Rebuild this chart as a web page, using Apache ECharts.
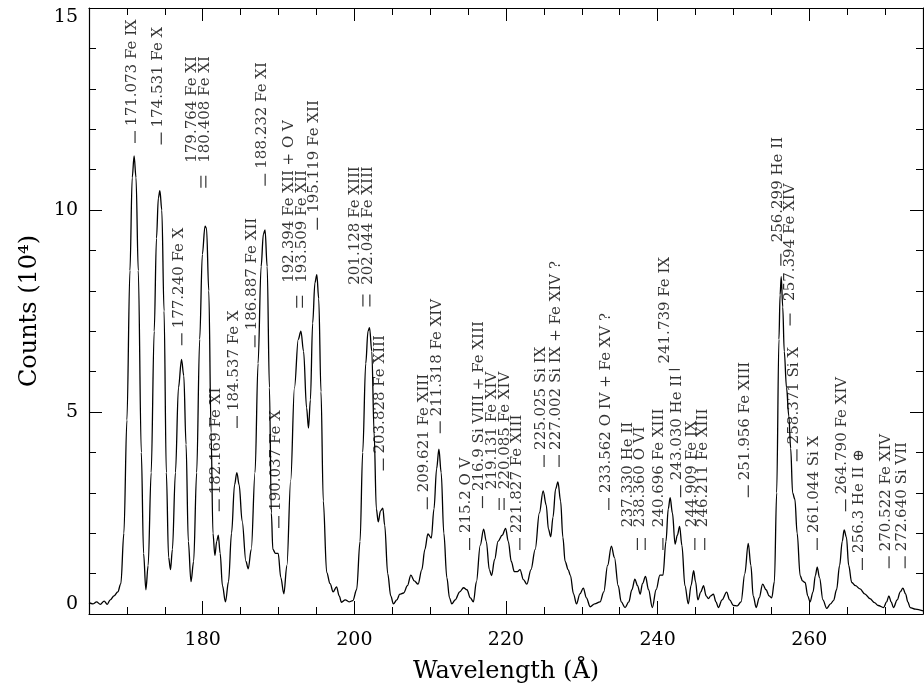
<!DOCTYPE html>
<html>
<head>
<meta charset="utf-8">
<script src="https://cdn.jsdelivr.net/npm/echarts@6/dist/echarts.min.js"></script>
<style>
  html, body { margin: 0; padding: 0; background: #fff; }
  #chart { width: 924px; height: 689px; }
</style>
</head>
<body>
<div id="chart"></div>
<script>
// spectrum (wavelength in Å, counts in 10^4)
const wl = [
  165.0,165.5,166.0,166.5,167.0,167.4,167.8,168.3,168.8,169.2,169.6,170.0,170.4,170.7,170.95,171.2,171.5,171.9,172.2,172.5,
  172.8,173.2,173.6,173.9,174.15,174.35,174.6,174.9,175.2,175.5,175.75,176.0,176.4,176.8,177.2,177.5,177.8,178.1,178.45,178.8,
  179.2,179.6,179.95,180.3,180.5,180.8,181.1,181.35,181.6,181.85,182.05,182.3,182.6,183.0,183.4,183.8,184.2,184.5,184.8,185.2,
  185.7,186.0,186.4,186.9,187.3,187.7,188.0,188.22,188.5,188.8,189.05,189.25,189.6,189.95,190.3,190.7,191.1,191.6,192.1,192.6,
  192.95,193.3,193.7,193.95,194.2,194.5,194.8,195.05,195.3,195.6,195.9,196.35,196.8,197.2,197.65,198.0,198.3,198.8,199.3,199.8,
  200.3,200.75,201.1,201.5,201.8,202.0,202.3,202.6,202.9,203.15,203.45,203.75,204.0,204.4,204.8,205.15,205.6,206.0,206.5,207.0,
  207.45,207.9,208.4,208.9,209.3,209.7,210.15,210.5,210.85,211.15,211.45,211.8,212.2,212.55,212.85,213.3,213.9,214.4,214.85,215.3,
  215.7,216.1,216.6,217.05,217.4,217.8,218.1,218.5,218.95,219.5,219.95,220.3,220.7,221.1,221.5,221.85,222.3,222.75,223.3,223.85,
  224.4,224.9,225.3,225.6,225.9,226.2,226.55,226.85,227.2,227.5,227.8,228.2,228.5,228.9,229.3,229.75,230.2,230.6,231.1,231.7,
  232.4,232.9,233.4,233.9,234.3,234.8,235.2,235.7,236.2,236.6,237.0,237.35,237.7,238.0,238.4,238.8,239.3,239.8,240.3,240.7,
  241.1,241.4,241.65,241.95,242.3,242.6,242.9,243.2,243.6,244.05,244.4,244.75,245.0,245.3,245.7,246.05,246.4,246.7,247.0,247.35,
  247.7,248.0,248.5,249.1,249.5,250.0,250.5,251.0,251.5,251.95,252.3,252.6,253.0,253.4,253.85,254.3,254.7,255.05,255.4,255.7,
  256.0,256.15,256.3,256.5,256.7,257.0,257.3,257.55,257.8,258.1,258.4,258.8,259.1,259.45,259.8,260.1,260.5,260.8,261.05,261.35,
  261.8,262.3,262.8,263.2,263.6,264.0,264.35,264.6,264.9,265.2,265.6,266.1,266.7,267.3,268.0,268.6,269.1,269.8,270.2,270.5,
  270.8,271.1,271.6,272.0,272.35,272.7,273.0,273.3,274.0,275.0
];
const counts = [
  0.28,0.25,0.30,0.24,0.32,0.24,0.35,0.45,0.55,0.75,2.0,4.8,8.5,10.8,11.34,10.8,8.5,4.0,1.5,0.6,
  1.2,3.5,7.0,9.3,10.3,10.48,10.0,7.5,3.5,1.4,1.1,1.6,3.5,5.6,6.3,5.9,4.2,1.8,0.8,1.3,
  3.5,6.8,8.9,9.6,9.55,8.0,4.5,2.0,1.45,1.8,1.95,1.5,0.7,0.3,0.8,2.0,3.2,3.5,3.2,2.3,
  1.3,1.12,1.6,3.5,6.2,8.6,9.4,9.51,8.6,5.6,2.5,1.6,1.5,1.5,0.9,0.5,1.2,3.3,5.6,6.8,
  7.0,6.5,5.1,4.6,5.3,7.2,8.2,8.4,7.8,5.5,2.8,1.03,0.75,0.55,0.67,0.45,0.29,0.35,0.30,0.33,
  0.6,1.8,4.0,6.2,7.0,7.09,6.5,4.5,2.6,2.28,2.55,2.62,2.2,1.0,0.45,0.25,0.35,0.49,0.52,0.7,
  0.96,0.82,0.74,1.1,1.6,1.98,1.88,2.6,3.6,4.08,3.5,2.0,0.9,0.4,0.25,0.35,0.55,0.65,0.6,0.4,
  0.3,0.8,1.7,2.1,1.8,1.1,0.95,1.35,1.8,1.95,2.12,1.8,1.3,1.05,1.05,1.1,0.85,0.74,1.1,1.6,
  2.5,3.05,2.7,2.1,1.91,2.4,3.1,3.27,2.8,1.9,1.3,1.1,0.95,0.5,0.25,0.5,0.64,0.4,0.18,0.25,
  0.3,0.55,1.2,1.68,1.4,0.7,0.3,0.16,0.3,0.6,0.86,0.7,0.49,0.75,0.93,0.6,0.16,0.6,0.96,0.96,
  1.8,2.6,2.88,2.5,1.73,1.95,2.17,1.7,0.7,0.25,0.7,1.07,0.8,0.35,0.55,0.7,0.45,0.38,0.45,0.49,
  0.3,0.16,0.35,0.54,0.35,0.21,0.2,0.3,1.0,1.75,1.2,0.45,0.16,0.4,0.74,0.6,0.45,0.4,0.8,3.0,
  6.8,7.9,8.35,7.6,6.5,5.6,4.9,4.1,3.0,2.84,2.0,0.95,0.82,0.78,0.45,0.3,0.55,0.95,1.16,0.9,
  0.35,0.14,0.25,0.33,0.6,1.2,1.8,2.08,1.9,1.2,0.78,0.7,0.62,0.5,0.38,0.28,0.21,0.16,0.3,0.45,
  0.3,0.16,0.35,0.55,0.64,0.5,0.3,0.16,0.12,0.08
];

// line markers: position (Å), height of the tick centre (10^4 counts), text drawn above it
const markWl = [171.073,174.531,177.240,179.764,180.408,182.169,184.537,186.887,188.232,190.037,
  192.394,193.15,195.119,201.128,202.044,203.828,209.621,211.318,215.2,216.9,219.1,219.75,221.827,
  225.025,227.002,233.562,237.330,238.360,240.696,242.2,243.030,244.909,246.211,251.956,256.25,
  257.47,258.371,261.044,264.790,267.0,270.522,272.640];
const markY = [11.81,11.77,6.80,10.70,10.70,2.69,4.75,6.75,10.75,2.28,
  7.73,7.73,9.66,7.76,7.76,3.70,2.74,4.62,1.73,2.77,2.72,2.72,1.73,
  3.79,3.79,2.72,1.73,1.73,1.73,6.05,3.04,1.73,1.73,3.04,8.77,
  7.29,3.93,1.73,2.69,1.24,1.28,1.28];
const markFlat = [242.2];   // drawn as a flat bar
const markText = ['171.073 Fe IX','174.531 Fe X','177.240 Fe X','','','182.169 Fe XI','184.537 Fe X','186.887 Fe XII','188.232 Fe XI','190.037 Fe X',
  '','','195.119 Fe XII','','','203.828 Fe XIII','209.621 Fe XIII','211.318 Fe XIV','215.2 O V','216.9 Si VIII + Fe XIII','','','221.827 Fe XIII',
  '225.025 Si IX','227.002 Si IX + Fe XIV ?','233.562 O IV + Fe XV ?','','','','','243.030 He II','','','251.956 Fe XIII','',
  '','258.371 Si X','261.044 Si X','264.790 Fe XIV','256.3 He II \u2295','270.522 Fe XIV','272.640 Si VII'];

// labels set apart from their tick marks
const noteWl = [179.47, 192.19, 201.02, 219.0, 236.05, 237.75, 240.25, 240.95, 244.55, 246.05, 255.93, 257.52];
const noteY = [11.17, 8.20, 8.15, 3.09, 2.15, 2.15, 2.15, 6.2, 2.15, 2.15, 9.2, 7.75];
const noteText = ['179.764 Fe XI\n180.408 Fe XI', '192.394 Fe XII + O V\n193.509 Fe XII',
  '201.128 Fe XIII\n202.044 Fe XIII', '219.131 Fe XIV\n220.085 Fe XIV',
  '237.330 He II', '238.360 O VI', '240.696 Fe XIII', '241.739 Fe IX', '244.909 Fe IX', '246.211 Fe XIII',
  '256.299 He II', '257.394 Fe XIV'];

const xLabels = [180, 200, 220, 240, 260];
const yLabels = [0, 5, 10, 15];

const FONT = 'DejaVu Serif';
const INK = '#000';

function frameX(pos, long) {
  return {
    type: 'value', position: pos, min: 165, max: 275, interval: 5,
    axisLine: { show: !long, onZero: false, lineStyle: { color: INK, width: 1.2 } },
    axisTick: long
      ? { inside: true, length: 13, customValues: xLabels.slice(), lineStyle: { color: INK, width: 1 } }
      : { inside: true, length: 7, lineStyle: { color: INK, width: 1 } },
    axisLabel: { show: false },
    splitLine: { show: false }
  };
}
function frameY(pos, long) {
  return {
    type: 'value', position: pos, min: 0, max: 15, interval: 1,
    axisLine: { show: !long, onZero: false, lineStyle: { color: INK, width: 1.2 } },
    axisTick: long
      ? { inside: true, length: 13, customValues: [5, 10], lineStyle: { color: INK, width: 1 } }
      : { inside: true, length: 7, lineStyle: { color: INK, width: 1 } },
    axisLabel: { show: false },
    splitLine: { show: false }
  };
}

const xMain = frameX('bottom', false);
xMain.axisLabel = { show: true, customValues: xLabels, margin: 17, color: INK, fontFamily: FONT, fontSize: 19 };
xMain.name = 'Wavelength (Å)';
xMain.nameLocation = 'middle';
xMain.nameGap = 46;
xMain.nameTextStyle = { color: INK, fontFamily: FONT, fontSize: 24 };

const yMain = frameY('left', false);
yMain.axisLabel = {
  show: true, customValues: yLabels, margin: 11, color: INK, fontFamily: FONT, fontSize: 19,
  verticalAlignMinLabel: 'bottom', verticalAlignMaxLabel: 'top'
};
yMain.name = 'Counts (10\u2074)';
yMain.nameLocation = 'middle';
yMain.nameRotate = 90;
yMain.nameGap = 47;
yMain.nameTextStyle = { color: INK, fontFamily: FONT, fontSize: 24 };

const labelStyle = { color: INK, fontFamily: FONT, fontSize: 15 };

const chart = echarts.init(document.getElementById('chart'), null, { renderer: 'canvas' });
chart.setOption({
  animation: false,
  backgroundColor: '#fff',
  grid: { left: 89, right: 1, top: 8, bottom: 74 },
  xAxis: [xMain, frameX('bottom', true), frameX('top', false), frameX('top', true)],
  yAxis: [yMain, frameY('left', true), frameY('right', false), frameY('right', true)],
  series: [
    {
      type: 'line',
      data: wl.map((x, i) => [x, counts[i]]),
      smooth: 0.35,
      smoothMonotone: 'x',
      showSymbol: false,
      lineStyle: { color: INK, width: 1.3 },
      silent: true
    },
    {
      type: 'scatter',
      data: markWl.map((x, i) => {
        const flat = markFlat.indexOf(x) >= 0;
        return { value: [x, markY[i]], symbolSize: flat ? [11, 1.2] : [1.2, 12] };
      }),
      symbol: 'rect',
      itemStyle: { color: INK },
      label: {
        show: true, position: 'top', distance: 5, rotate: 90,
        align: 'left', verticalAlign: 'middle', offset: [0, -3],
        formatter: p => markText[p.dataIndex],
        ...labelStyle
      },
      silent: true
    },
    {
      type: 'scatter',
      data: noteWl.map((x, i) => [x, noteY[i]]),
      symbolSize: 0,
      label: {
        show: true, position: 'inside', rotate: 90,
        align: 'left', verticalAlign: 'middle', lineHeight: 13,
        formatter: p => noteText[p.dataIndex],
        ...labelStyle
      },
      silent: true
    }
  ]
});
</script>
</body>
</html>
